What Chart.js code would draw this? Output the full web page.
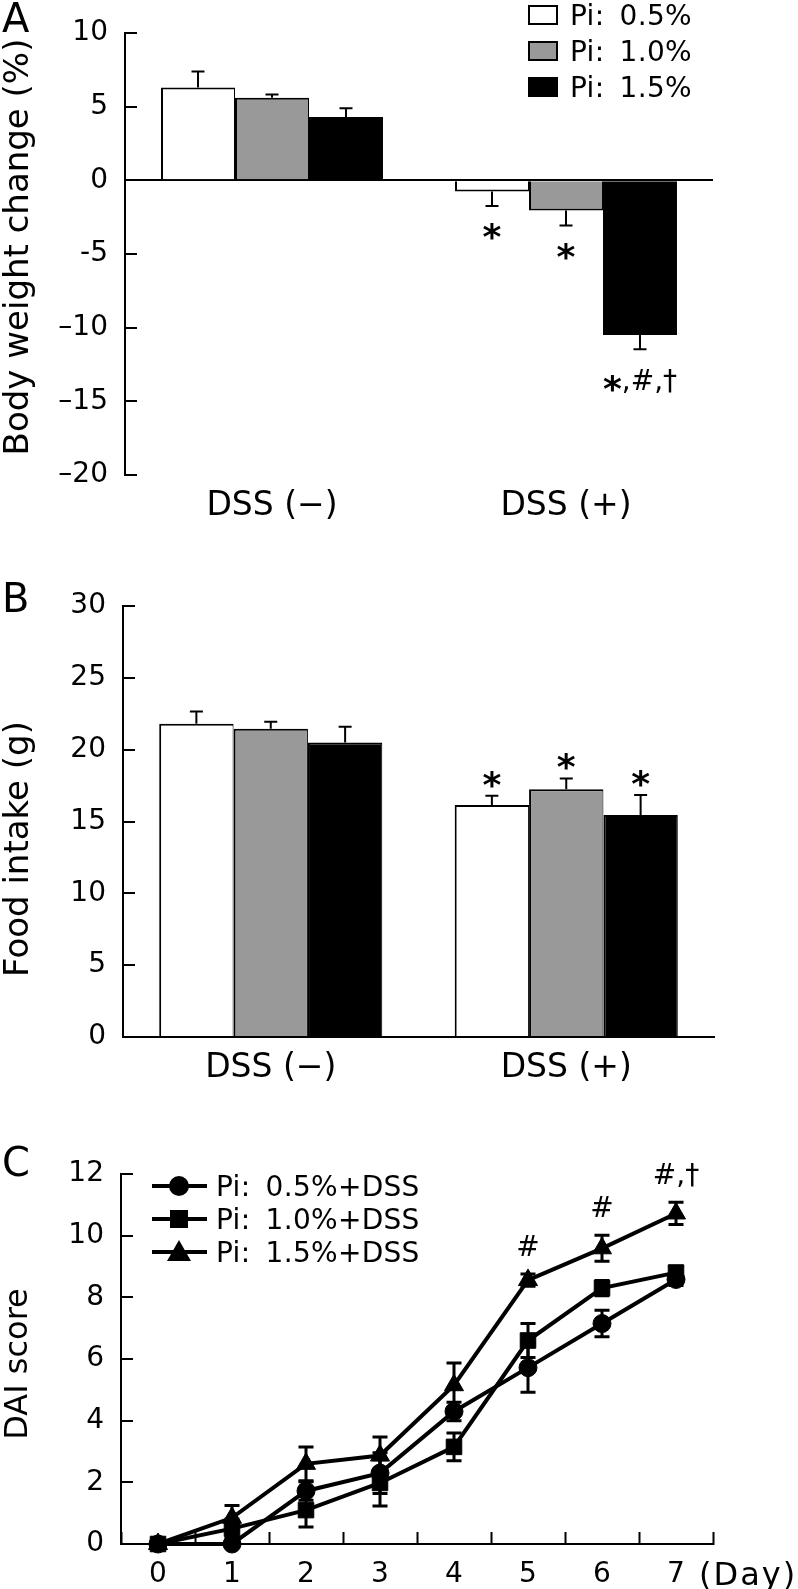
<!DOCTYPE html>
<html>
<head>
<meta charset="utf-8">
<script src="https://cdn.jsdelivr.net/npm/chart.js@4.4.1/dist/chart.umd.min.js"></script>
<style>
html,body{margin:0;padding:0;background:#fff;}
#wrap{position:relative;width:798px;height:1589px;overflow:hidden;font-family:"DejaVu Sans",Verdana,sans-serif;color:#000;background:#fff;}
canvas{position:absolute;left:0;}
.abs{position:absolute;white-space:nowrap;line-height:1;}
.ytitle{position:absolute;white-space:nowrap;line-height:1;left:16px;transform:translate(-50%,-50%) rotate(-90deg);}
</style>
</head>
<body>
<div id="wrap">
  <canvas id="cA" width="798" height="545" style="top:0px"></canvas>
  <canvas id="cB" width="798" height="530" style="top:560px"></canvas>
  <canvas id="cC" width="798" height="459" style="top:1130px"></canvas>
  <div class="abs" style="left:2px;top:-2px;font-size:40px;">A</div>
  <div class="abs" style="left:2px;top:578px;font-size:40px;">B</div>
  <div class="abs" style="left:2px;top:1142px;font-size:40px;">C</div>
  <div class="ytitle" id="tA" style="top:247px;font-size:34px;"></div>
  <div class="ytitle" id="tB" style="top:849px;font-size:34px;"></div>
  <div class="ytitle" id="tC" style="top:1364px;font-size:32px;"></div>
  <div class="abs" id="dayUnit" style="left:699px;top:1558px;font-size:32px;letter-spacing:2px;"></div>
  <div id="legA"></div>
  <div id="legC"></div>
</div>
<script>
// ---------- DATA ----------
const groups = ['DSS (−)', 'DSS (+)'];
const barSeries = ['Pi: 0.5%', 'Pi: 1.0%', 'Pi: 1.5%'];

// Panel A: body weight change (%)
const weightTitle = 'Body weight change (%)';
const weight05 = [6.3, -0.75];
const weight10 = [5.6, -2.05];
const weight15 = [4.3, -10.5];
const weightErr05 = [1.08, 1.0];
const weightErr10 = [0.23, 1.02];
const weightErr15 = [0.6, 0.97];
const weightSig05 = ['', '*'];
const weightSig10 = ['', '*'];
const weightSig15 = ['', '*,#,†'];
const weightTicks = [10, 5, 0, -5, -10, -15, -20];
const weightTickLabels = ['10', '5', '0', '-5', '–10', '–15', '–20'];

// Panel B: food intake (g)
const foodTitle = 'Food intake (g)';
const food05 = [21.8, 16.15];
const food10 = [21.45, 17.25];
const food15 = [20.5, 15.45];
const foodErr05 = [0.85, 0.65];
const foodErr10 = [0.5, 0.75];
const foodErr15 = [1.1, 1.4];
const foodSig05 = ['', '*'];
const foodSig10 = ['', '*'];
const foodSig15 = ['', '*'];
const foodTicks = [0, 5, 10, 15, 20, 25, 30];
const foodTickLabels = ['0', '5', '10', '15', '20', '25', '30'];

// Panel C: DAI score
const daiTitle = 'DAI score';
const dayUnit = '(Day)';
const lineSeries = ['Pi: 0.5%+DSS', 'Pi: 1.0%+DSS', 'Pi: 1.5%+DSS'];
const days = ['0', '1', '2', '3', '4', '5', '6', '7'];
const dai05 = [0, 0, 1.72, 2.3, 4.3, 5.72, 7.15, 8.58];
const dai10 = [0, 0.5, 1.1, 1.98, 3.15, 6.6, 8.3, 8.8];
const dai15 = [0, 0.85, 2.6, 2.87, 5.15, 8.56, 9.59, 10.72];
const daiErr05 = [0.1, 0.05, 0.3, 0.66, 0.3, 0.8, 0.43, 0.2];
const daiErr10 = [0.05, 0.3, 0.55, 0.75, 0.45, 0.55, 0.25, 0.22];
const daiErr15 = [0.05, 0.4, 0.55, 0.6, 0.72, 0.2, 0.42, 0.36];
const daiSig05 = ['', '', '', '', '', '', '', ''];
const daiSig10 = ['', '', '', '', '', '', '', ''];
const daiSig15 = ['', '', '', '', '', '#', '#', '#,†'];
const daiTicks = [0, 2, 4, 6, 8, 10, 12];
const daiTickLabels = ['0', '2', '4', '6', '8', '10', '12'];

// ---------- STYLE ----------
const FONT = '"DejaVu Sans", Verdana, sans-serif';
Chart.defaults.font.family = FONT;
Chart.defaults.color = '#000';
const barFills = ['#ffffff', '#999999', '#000000'];
const lineMarkers = ['circle', 'rect', 'triangle'];
const markerRadius = [9, 11, 11];

document.getElementById('tA').textContent = weightTitle;
document.getElementById('tB').textContent = foodTitle;
document.getElementById('tC').textContent = daiTitle;
document.getElementById('dayUnit').textContent = dayUnit;

function drawSig(ctx, text, x, cy) {
  const parts = Array.from(text).map(ch => ({
    ch: ch,
    font: ch === '*' ? 'bold 36px ' + FONT : '28px ' + FONT,
    dy: ch === '*' ? 21 : 10
  }));
  let total = 0;
  parts.forEach(p => { ctx.font = p.font; p.w = ctx.measureText(p.ch).width; total += p.w; });
  let x0 = x - total / 2;
  ctx.textAlign = 'left';
  ctx.textBaseline = 'alphabetic';
  ctx.fillStyle = '#000';
  parts.forEach(p => { ctx.font = p.font; ctx.fillText(p.ch, x0, cy + p.dy); x0 += p.w; });
}

const errorBarPlugin = {
  id: 'errbars',
  afterDatasetsDraw(chart, args, opts) {
    const ctx = chart.ctx;
    const ys = chart.scales.y;
    chart.data.datasets.forEach((ds, i) => {
      const meta = chart.getDatasetMeta(i);
      meta.data.forEach((el, j) => {
        const v = ds.data[j];
        const e = ds.errors ? ds.errors[j] : null;
        const x = el.x;
        let endPix = ys.getPixelForValue(v);
        ctx.save();
        ctx.strokeStyle = '#000';
        ctx.lineWidth = opts.lineWidth;
        ctx.lineCap = 'butt';
        if (e != null && e > 0) {
          const half = opts.cap / 2;
          if (opts.both) {
            const lo = ys.getPixelForValue(v - e), hi = ys.getPixelForValue(v + e);
            ctx.beginPath();
            ctx.moveTo(x, lo); ctx.lineTo(x, hi);
            ctx.moveTo(x - half, lo); ctx.lineTo(x + half, lo);
            ctx.moveTo(x - half, hi); ctx.lineTo(x + half, hi);
            ctx.stroke();
            endPix = hi;
          } else {
            const b = ys.getPixelForValue(v);
            const t = ys.getPixelForValue(v >= 0 ? v + e : v - e);
            ctx.beginPath();
            ctx.moveTo(x, b); ctx.lineTo(x, t);
            ctx.moveTo(x - half, t); ctx.lineTo(x + half, t);
            ctx.stroke();
            endPix = t;
          }
        }
        const s = ds.sig ? ds.sig[j] : '';
        if (s) {
          const cy = v < 0 ? endPix + (s.length > 1 ? opts.belowMulti : opts.below) : endPix - opts.above;
          drawSig(ctx, s, x, cy);
        }
        ctx.restore();
      });
    });
  }
};

function yAxis(min, max, ticks, labels, width, zeroLine) {
  return {
    min: min, max: max, z: zeroLine ? 1 : 0,
    afterBuildTicks: s => { s.ticks = ticks.map(v => ({value: v})); },
    afterFit: s => { s.width = width; s.paddingTop = 0; s.paddingBottom = 0; },
    border: {display: true, color: '#000', width: 2},
    grid: {
      drawOnChartArea: !!zeroLine,
      color: c => (zeroLine && c.tick && c.tick.value === 0) ? '#000' : 'rgba(0,0,0,0)',
      lineWidth: 2, tickColor: '#000', tickWidth: 2, tickLength: -12, drawTicks: true
    },
    ticks: {
      color: '#000', padding: 29, font: {size: 28, family: FONT},
      callback: v => labels[ticks.indexOf(v)]
    },
    title: {display: false}
  };
}

function barDatasets(vals, errs, sigs) {
  return vals.map((d, i) => ({
    label: barSeries[i], data: d, errors: errs[i], sig: sigs[i],
    backgroundColor: barFills[i], borderColor: '#000',
    borderWidth: {top: 2, bottom: 2, left: 2, right: 1}, borderSkipped: 'start',
    categoryPercentage: 0.755, barPercentage: 1.0
  }));
}

const common = {responsive: false, maintainAspectRatio: false, animation: false, devicePixelRatio: 1, events: []};

// ---------- PANEL A ----------
new Chart(document.getElementById('cA'), {
  type: 'bar',
  data: {labels: groups, datasets: barDatasets([weight05, weight10, weight15], [weightErr05, weightErr10, weightErr15], [weightSig05, weightSig10, weightSig15])},
  options: Object.assign({}, common, {
    layout: {padding: {top: 33, right: 85, left: 0, bottom: 0}},
    plugins: {legend: {display: false}, tooltip: {enabled: false},
      errbars: {lineWidth: 2, cap: 13, both: false, below: 22, belowMulti: 31, above: 20}},
    scales: {
      x: {grid: {display: false, drawTicks: false}, border: {display: false},
          ticks: {color: '#000', padding: 12, font: {size: 33, family: FONT}},
          afterFit: s => { s.height = 70; }},
      y: yAxis(-20, 10, weightTicks, weightTickLabels, 125, true)
    }
  }),
  plugins: [errorBarPlugin]
});

// ---------- PANEL B ----------
new Chart(document.getElementById('cB'), {
  type: 'bar',
  data: {labels: groups, datasets: barDatasets([food05, food10, food15], [foodErr05, foodErr10, foodErr15], [foodSig05, foodSig10, foodSig15])},
  options: Object.assign({}, common, {
    layout: {padding: {top: 46, right: 84, left: 0, bottom: 0}},
    plugins: {legend: {display: false}, tooltip: {enabled: false},
      errbars: {lineWidth: 2, cap: 13, both: false, below: 22, belowMulti: 31, above: 20}},
    scales: {
      x: {grid: {display: false, drawTicks: false}, border: {display: true, color: '#000', width: 2},
          ticks: {color: '#000', padding: 12, font: {size: 33, family: FONT}},
          afterFit: s => { s.height = 53; }},
      y: yAxis(0, 30, foodTicks, foodTickLabels, 123, false)
    }
  }),
  plugins: [errorBarPlugin]
});

// ---------- PANEL C ----------
const daiVals = [dai05, dai10, dai15], daiErrs = [daiErr05, daiErr10, daiErr15], daiSigs = [daiSig05, daiSig10, daiSig15];
new Chart(document.getElementById('cC'), {
  type: 'line',
  data: {labels: days, datasets: daiVals.map((d, i) => ({
    label: lineSeries[i], data: d, errors: daiErrs[i], sig: daiSigs[i],
    borderColor: '#000', borderWidth: 4, tension: 0, fill: false, clip: false,
    pointStyle: lineMarkers[i], pointRadius: markerRadius[i],
    pointBackgroundColor: '#000', pointBorderColor: '#000', pointBorderWidth: 1
  }))},
  options: Object.assign({}, common, {
    layout: {padding: {top: 44, right: 85, left: 0, bottom: 0}},
    plugins: {legend: {display: false}, tooltip: {enabled: false},
      errbars: {lineWidth: 3, cap: 15, both: true, below: 22, belowMulti: 31, above: 28}},
    scales: {
      x: {type: 'category', offset: true,
          grid: {offset: true, drawOnChartArea: false, tickLength: -12, tickColor: '#000', tickWidth: 2, color: '#000'},
          border: {display: true, color: '#000', width: 2},
          ticks: {color: '#000', padding: 26, font: {size: 28, family: FONT}, maxRotation: 0, autoSkip: false},
          afterFit: s => { s.height = 45; }},
      y: yAxis(0, 12, daiTicks, daiTickLabels, 121, false)
    }
  }),
  plugins: [errorBarPlugin]
});

// ---------- LEGENDS (HTML) ----------
const legA = document.getElementById('legA');
const legARows = [15, 51, 87];
barSeries.forEach((name, i) => {
  const c = legARows[i];
  const box = document.createElement('div');
  box.className = 'abs';
  box.style.cssText = `left:528px;top:${c - 10}px;width:26px;height:16px;border:2px solid #000;background:${barFills[i]};`;
  legA.appendChild(box);
  const t = document.createElement('div');
  t.className = 'abs';
  t.style.cssText = `left:570px;top:${c - 13.5}px;font-size:28px;word-spacing:6px;letter-spacing:0.3px;`;
  t.textContent = name;
  legA.appendChild(t);
});

const legC = document.getElementById('legC');
const legCRows = [1186, 1219, 1252];
lineSeries.forEach((name, i) => {
  const c = legCRows[i];
  const ln = document.createElement('div');
  ln.className = 'abs';
  ln.style.cssText = `left:152px;top:${c - 2}px;width:55px;height:4px;background:#000;`;
  legC.appendChild(ln);
  const m = document.createElement('div');
  m.className = 'abs';
  if (lineMarkers[i] === 'circle') {
    m.style.cssText = `left:${179 - 10}px;top:${c - 10}px;width:20px;height:20px;border-radius:50%;background:#000;`;
  } else if (lineMarkers[i] === 'rect') {
    m.style.cssText = `left:${179 - 9}px;top:${c - 9}px;width:18px;height:18px;background:#000;`;
  } else {
    m.style.cssText = `left:${179 - 12}px;top:${c - 12}px;width:0;height:0;border-left:12px solid transparent;border-right:12px solid transparent;border-bottom:21px solid #000;`;
  }
  legC.appendChild(m);
  const t = document.createElement('div');
  t.className = 'abs';
  t.style.cssText = `left:216px;top:${c - 13.5}px;font-size:28px;word-spacing:6px;letter-spacing:0.3px;`;
  t.textContent = name;
  legC.appendChild(t);
});
</script>
</body>
</html>
